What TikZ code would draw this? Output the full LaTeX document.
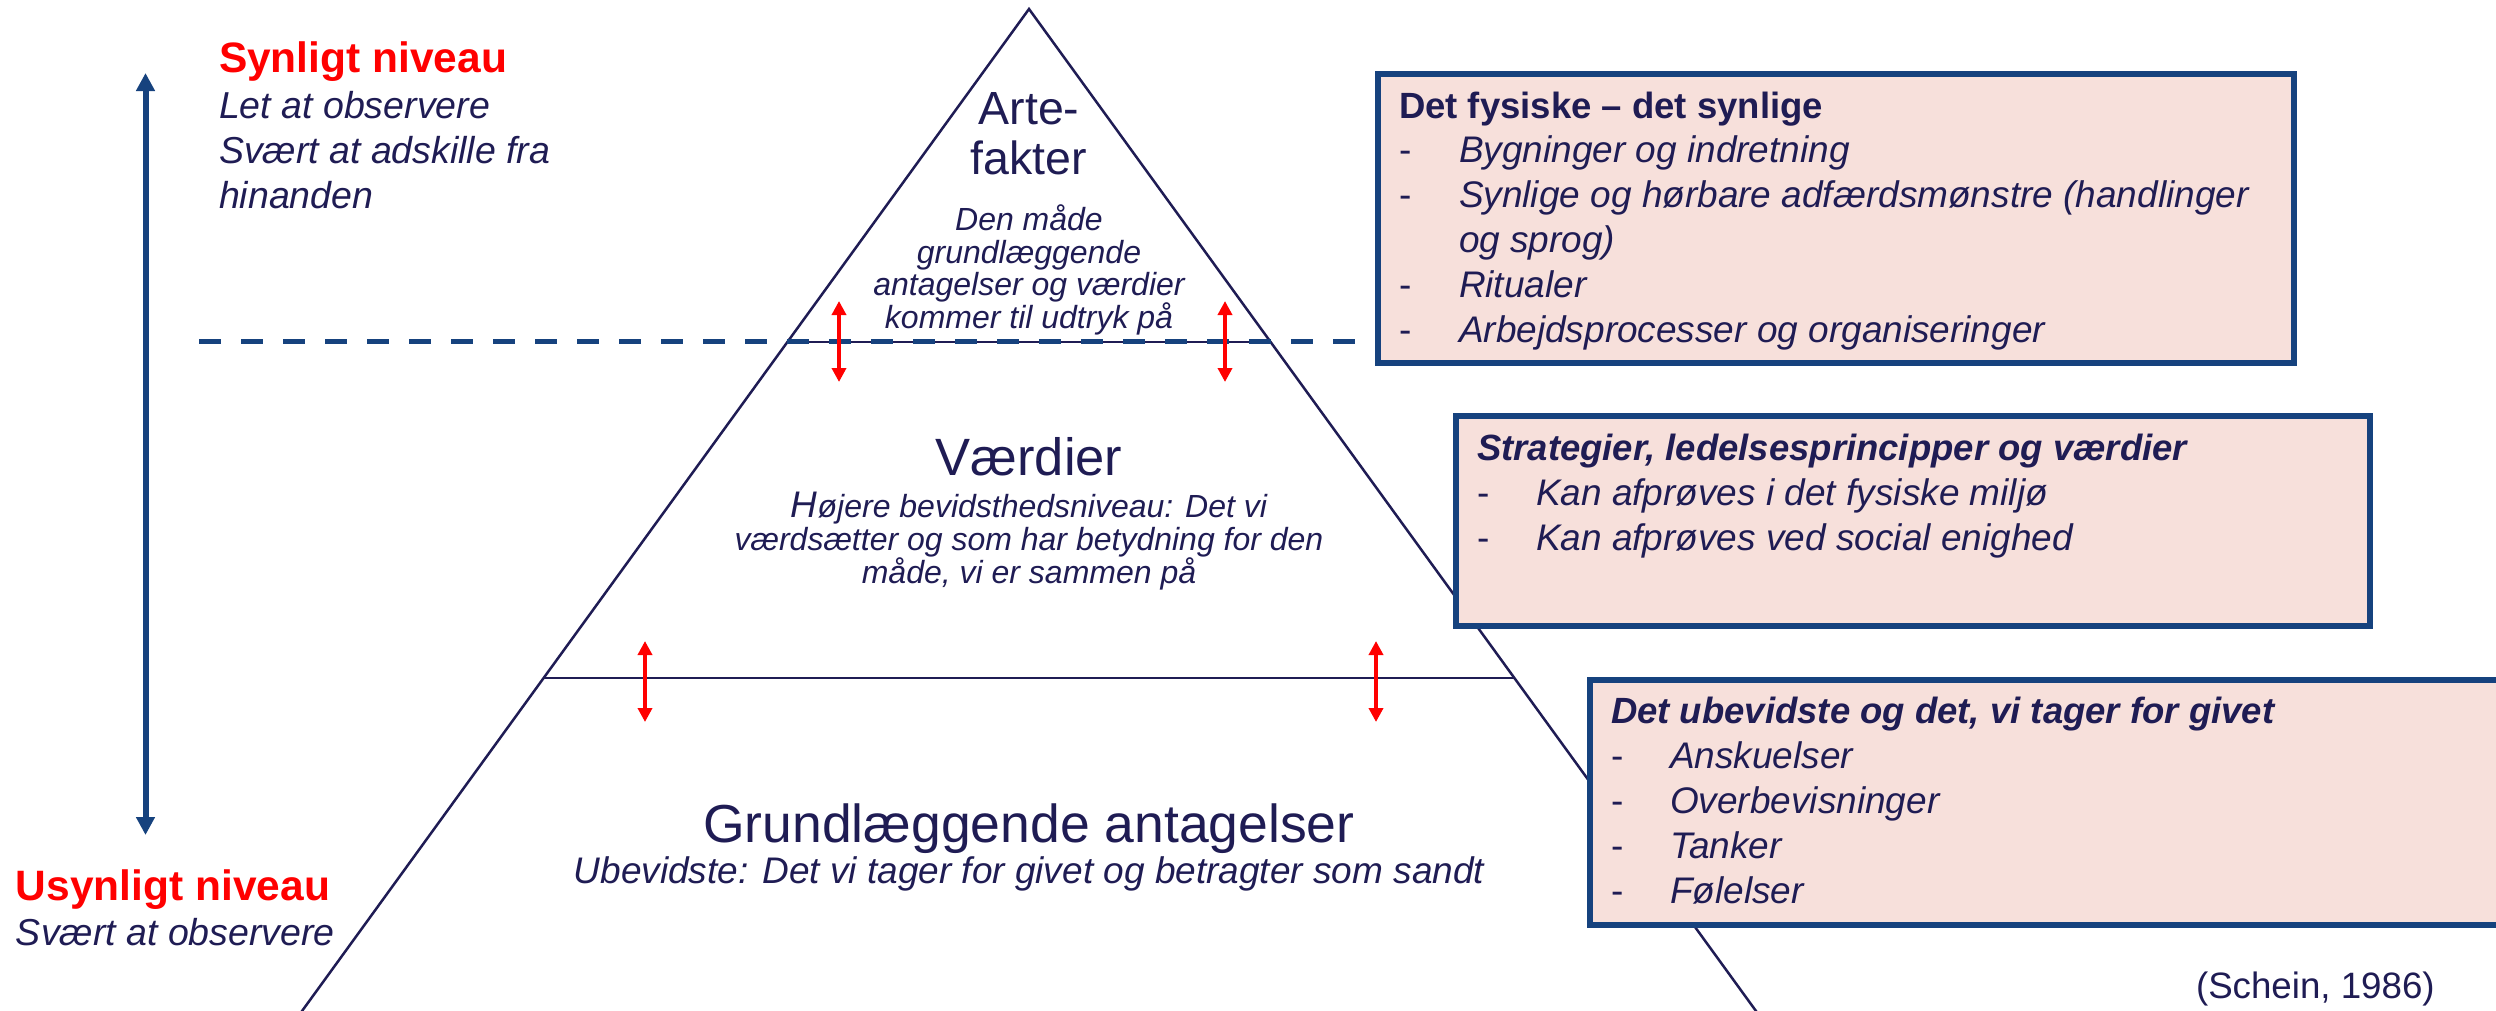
\documentclass[tikz,border=0pt]{standalone}
\usepackage{fontspec}
\setmainfont{Liberation Sans}
\usetikzlibrary{arrows.meta,calc}
\definecolor{navy}{RGB}{31,28,84}
\definecolor{dblue}{RGB}{22,66,126}
\definecolor{boxfill}{RGB}{247,224,219}
\definecolor{myred}{RGB}{255,0,0}
\newcommand\fsz[1]{\fontsize{#1}{#1}\selectfont}
\tikzset{
  txt/.style={inner sep=0pt, outer sep=0pt, text=navy},
  redhead/.style={txt, text=myred, font=\fsz{42.5}\bfseries, anchor=base west},
  sidetxt/.style={txt, font=\fsz{37.5}\itshape, anchor=base west},
  bigtxt/.style={txt, font=\fsz{#1}, anchor=base},
  smalltxt/.style={txt, font=\fsz{32}\itshape, anchor=base},
  boxhead/.style={txt, font=\fsz{36.5}\bfseries, anchor=base west},
  boxheadit/.style={txt, font=\fsz{36.5}\bfseries\itshape, anchor=base west},
  itemtxt/.style={txt, font=\fsz{37}\itshape, anchor=base west},
  dashmark/.style={txt, font=\fsz{37}, anchor=base west},
  infobox/.style={draw=dblue, line width=6pt, fill=boxfill},
  pyr/.style={draw=navy, line width=2.5pt},
  redarr/.style={draw=myred, line width=3.5pt, {Triangle[length=14pt,width=14pt]}-{Triangle[length=14pt,width=14pt]}},
  bluearr/.style={draw=dblue, line width=6pt, {Triangle[length=18pt,width=18pt]}-{Triangle[length=18pt,width=18pt]}},
}
\begin{document}
\begin{tikzpicture}[x=1pt,y=-1pt]
\useasboundingbox (0,0) rectangle (2496,1010);

% pyramid
\coordinate (apex) at (1029,9);
\coordinate (bl) at (295.5,1020);
\coordinate (br) at (1762.5,1020);
\draw[pyr] (bl) -- (apex) -- (br);
\coordinate (l1) at ($(apex)!0.32938!(bl)$);
\coordinate (r1) at ($(apex)!0.32938!(br)$);
\coordinate (l2) at ($(apex)!0.66172!(bl)$);
\coordinate (r2) at ($(apex)!0.66172!(br)$);
\draw[pyr] (l1) -- (r1);
\draw[pyr] (l2) -- (r2);

% dashed visibility line
\coordinate (dashA) at (199,341.5);
\coordinate (dashB) at (1378,341.5);
\draw[dblue, line width=5.5pt, dash pattern=on 22pt off 20pt] (dashA) -- (dashB);

% red double arrows
\coordinate (ra1) at (839,301);  \coordinate (rb1) at (839,382);
\coordinate (ra2) at (1225,301); \coordinate (rb2) at (1225,382);
\coordinate (ra3) at (645,641);  \coordinate (rb3) at (645,722);
\coordinate (ra4) at (1376,641); \coordinate (rb4) at (1376,722);
\draw[redarr] (ra1) -- (rb1);
\draw[redarr] (ra2) -- (rb2);
\draw[redarr] (ra3) -- (rb3);
\draw[redarr] (ra4) -- (rb4);

% blue vertical arrow
\coordinate (bt) at (145.5,73);
\coordinate (bb) at (145.5,835);
\draw[bluearr] (bt) -- (bb);

% left texts
\node[redhead] (syn) at (219,72) {Synligt niveau};
\node[sidetxt] (syn1) at (219,118) {Let at observere};
\node[sidetxt] (syn2) at (219,163) {Svært at adskille fra};
\node[sidetxt] (syn3) at (219,208) {hinanden};
\node[redhead] (usyn) at (16,900) {Usynligt niveau};
\node[sidetxt] (usyn1) at (16,945) {Svært at observere};

% pyramid texts
\node[bigtxt=46.5] (art1) at (1029,124) {Arte-};
\node[bigtxt=46.5] (art2) at (1029,174) {fakter};
\node[smalltxt] (artd1) at (1029,230) {Den måde};
\node[smalltxt] (artd2) at (1029,263) {grundlæggende};
\node[smalltxt] (artd3) at (1029,295) {antagelser og værdier};
\node[smalltxt] (artd4) at (1029,328) {kommer til udtryk på};

\node[bigtxt=52.5] (vaerd) at (1029,475) {Værdier};
\node[smalltxt] (vd1) at (1029,517) {{\fsz{37}H}øjere bevidsthedsniveau: Det vi};
\node[smalltxt] (vd2) at (1029,550) {værdsætter og som har betydning for den};
\node[smalltxt] (vd3) at (1029,583) {måde, vi er sammen på};

\node[bigtxt=53.5] (grund) at (1029,842) {Grundlæggende antagelser};
\node[txt, font=\fsz{37}\itshape, anchor=base] (grundd) at (1029,883) {Ubevidste: Det vi tager for givet og betragter som sandt};

% box 1
\draw[infobox] (1378,74) rectangle (2294,363);
\node[boxhead] (b1h) at (1399,118) {Det fysiske – det synlige};
\foreach \y/\t [count=\i] in {162/Bygninger og indretning, 207/Synlige og hørbare adfærdsmønstre (handlinger, 297/Ritualer, 342/Arbejdsprocesser og organiseringer}{
  \node[dashmark] (b1d\i) at (1399,\y) {-};
  \node[itemtxt] (b1t\i) at (1459,\y) {\t};
}
\node[itemtxt] (b1x) at (1459,252) {og sprog)};

% box 2
\draw[infobox] (1456,416) rectangle (2370,626);
\node[boxheadit] (b2h) at (1477,460) {Strategier, ledelsesprincipper og værdier};
\foreach \y/\t [count=\i] in {505/Kan afprøves i det fysiske miljø, 550/Kan afprøves ved social enighed}{
  \node[dashmark] (b2d\i) at (1477,\y) {-};
  \node[itemtxt] (b2t\i) at (1536,\y) {\t};
}

% box 3
\draw[infobox] (1590,680) rectangle (2530,925);
\node[boxheadit] (b3h) at (1611,723) {Det ubevidste og det, vi tager for givet};
\foreach \y/\t [count=\i] in {768/Anskuelser, 813/Overbevisninger, 858/Tanker, 903/Følelser}{
  \node[dashmark] (b3d\i) at (1611,\y) {-};
  \node[itemtxt] (b3t\i) at (1670,\y) {\t};
}

\node[txt, font=\fsz{36.7}, anchor=base west] (src) at (2196,998) {(Schein, 1986)};
\end{tikzpicture}
\end{document}
